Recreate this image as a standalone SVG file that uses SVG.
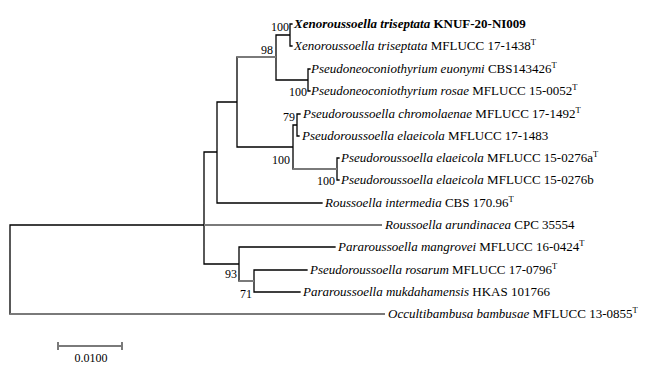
<svg xmlns="http://www.w3.org/2000/svg" width="667" height="375" viewBox="0 0 667 375">
<style>
.b{stroke:#000;stroke-width:1.3;fill:none;stroke-linecap:square}
.g{stroke:#7a7a7a;stroke-width:2;fill:none;stroke-linecap:butt}
text{font-family:"Liberation Serif","Times New Roman",serif;font-size:13px;fill:#000}
.i{font-style:italic}
.bs{font-size:12px}
.sup{font-size:8.5px}
</style>
<rect width="667" height="375" fill="#fff"/>
<g id="connectors">
<path class="b" d="M10,225V314M10,225H204M204,152V264M204,152H217M217,102V203M217,203H322M217,102H237M237,57V147M237,147H293M276,35V80M276,35H290M276,80H308M290,24V46M290,24H292M290,46H292M308,69V91M308,69H310M308,91H310M293,125V169M293,125H297M297,114V136M297,114H300M297,136H299M337,158V180M337,158H339M337,180H339M204,264H239M239,247V281M239,247H335M254,270V292M254,270H307M254,292H300"/>
<path class="g" d="M204,225H382M10,314H385M237,57H276M293,169H337M239,281H254"/>
</g>
<g id="support" class="bs">
<text x="289" y="31" text-anchor="end" class="bs">100</text>
<text x="273" y="54" text-anchor="end" class="bs">98</text>
<text x="307" y="96" text-anchor="end" class="bs">100</text>
<text x="295" y="121" text-anchor="end" class="bs">79</text>
<text x="290" y="164" text-anchor="end" class="bs">100</text>
<text x="335" y="185" text-anchor="end" class="bs">100</text>
<text x="237" y="278" text-anchor="end" class="bs">93</text>
<text x="252" y="298" text-anchor="end" class="bs">71</text>
</g>
<g id="leaf1"><text x="294" y="28" font-weight="bold"><tspan class="i">Xenoroussoella triseptata</tspan> KNUF-20-NI009</text></g>
<g id="leaf2"><text x="294" y="50"><tspan class="i">Xenoroussoella triseptata</tspan> MFLUCC 17-1438<tspan class="sup" dy="-5">T</tspan></text></g>
<g id="leaf3"><text x="311" y="73"><tspan class="i">Pseudoneoconiothyrium euonymi</tspan> CBS143426<tspan class="sup" dy="-5">T</tspan></text></g>
<g id="leaf4"><text x="311" y="95"><tspan class="i">Pseudoneoconiothyrium rosae</tspan> MFLUCC 15-0052<tspan class="sup" dy="-5">T</tspan></text></g>
<g id="leaf5"><text x="303" y="118"><tspan class="i">Pseudoroussoella chromolaenae</tspan> MFLUCC 17-1492<tspan class="sup" dy="-5">T</tspan></text></g>
<g id="leaf6"><text x="302" y="140"><tspan class="i">Pseudoroussoella elaeicola</tspan> MFLUCC 17-1483</text></g>
<g id="leaf7"><text x="341" y="162"><tspan class="i">Pseudoroussoella elaeicola</tspan> MFLUCC 15-0276a<tspan class="sup" dy="-5">T</tspan></text></g>
<g id="leaf8"><text x="341" y="184"><tspan class="i">Pseudoroussoella elaeicola</tspan> MFLUCC 15-0276b</text></g>
<g id="leaf9"><text x="325" y="207"><tspan class="i">Roussoella intermedia</tspan> CBS 170.96<tspan class="sup" dy="-5">T</tspan></text></g>
<g id="leaf10"><text x="385" y="229"><tspan class="i">Roussoella arundinacea</tspan> CPC 35554</text></g>
<g id="leaf11"><text x="338" y="251"><tspan class="i">Pararoussoella mangrovei</tspan> MFLUCC 16-0424<tspan class="sup" dy="-5">T</tspan></text></g>
<g id="leaf12"><text x="310" y="274"><tspan class="i">Pseudoroussoella rosarum</tspan> MFLUCC 17-0796<tspan class="sup" dy="-5">T</tspan></text></g>
<g id="leaf13"><text x="303" y="296"><tspan class="i">Pararoussoella mukdahamensis</tspan> HKAS 101766</text></g>
<g id="leaf14"><text x="388" y="318"><tspan class="i">Occultibambusa bambusae</tspan> MFLUCC 13-0855<tspan class="sup" dy="-5">T</tspan></text></g>
<g id="scalebar">
<path class="g" d="M58,346H122M58,342V350M122,342V350"/>
<text x="91" y="362" text-anchor="middle" class="bs">0.0100</text>
</g>
</svg>
